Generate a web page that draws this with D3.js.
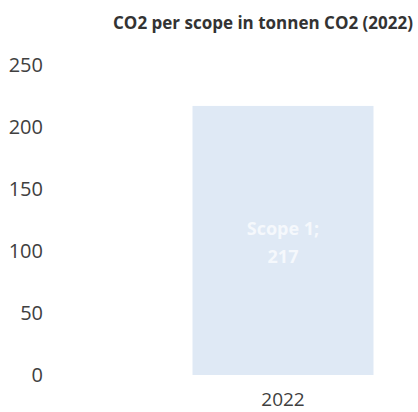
<!DOCTYPE html>
<html>
<head>
<meta charset="utf-8">
<script src="https://cdn.jsdelivr.net/npm/d3@7"></script>
<style>
  body { margin: 0; background: #fff; }
  svg { display: block; }
</style>
</head>
<body>
<svg id="chart" width="418" height="412"></svg>
<script>
// data
var categories = ['2022'];
var seriesNames = ['Scope 1'];
var values = [217];
var yTicks = [0, 50, 100, 150, 200, 250];

var svg = d3.select('#chart');
var font = "'Open Sans', 'Liberation Sans', sans-serif";

var x = d3.scaleBand()
    .domain(categories)
    .range([112, 454])
    .paddingInner(0.1)
    .paddingOuter(0.23);

var y = d3.scaleLinear()
    .domain([0, 250])
    .range([375, 65]);

// title
svg.append('text')
    .attr('x', 263)
    .attr('y', 29)
    .attr('text-anchor', 'middle')
    .style('font-family', font)
    .style('font-weight', 'bold')
    .style('font-size', '17px')
    .attr('fill', '#333')
    .text('CO2 per scope in tonnen CO2 (2022)');

// y axis (labels only)
var yAxis = d3.axisLeft(y).tickValues(yTicks).tickSize(0).tickPadding(0);
var gy = svg.append('g').attr('transform', 'translate(43,0)').call(yAxis);
gy.select('.domain').remove();
gy.selectAll('text')
    .style('font-family', font)
    .style('font-size', '20px')
    .attr('fill', '#404040');

// x axis
var xAxis = d3.axisBottom(x).tickSize(0).tickPadding(0);
var gx = svg.append('g').attr('transform', 'translate(0,392)').call(xAxis);
gx.select('.domain').remove();
gx.selectAll('text')
    .style('font-family', font)
    .style('font-size', '19px')
    .attr('fill', '#404040');

// bars
var bw = 181;
values.forEach(function(v, i){
    var cx = x(categories[i]) + x.bandwidth() / 2;
    svg.append('rect')
        .attr('x', cx - bw / 2)
        .attr('y', y(v))
        .attr('width', bw)
        .attr('height', y(0) - y(v))
        .attr('fill', '#dfe9f5');

    var lbl = svg.append('text')
        .attr('x', cx)
        .attr('y', 235)
        .attr('text-anchor', 'middle')
        .style('font-family', font)
        .style('font-weight', 'bold')
        .style('font-size', '18px')
        .attr('fill', '#f5f8fc');
    lbl.append('tspan').attr('x', cx).text(seriesNames[i] + ';');
    lbl.append('tspan').attr('x', cx).attr('dy', 28).text(v);
});
</script>
</body>
</html>
